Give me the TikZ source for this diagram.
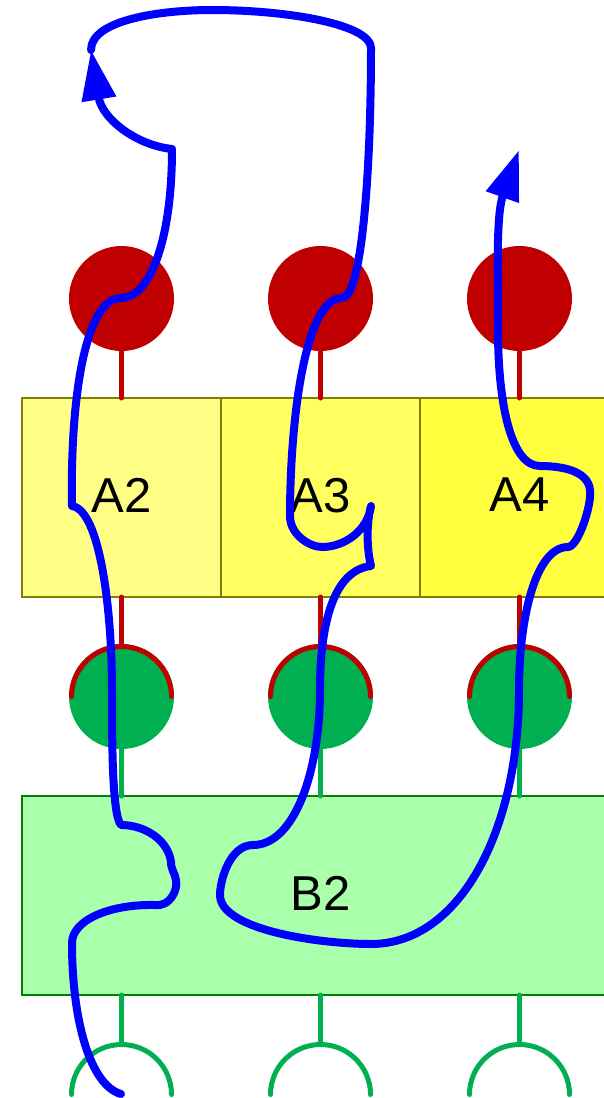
\documentclass[tikz,border=0pt]{standalone}
\usepackage{fontspec}
\usepackage{xcolor}
\setmainfont{Liberation Sans}
\usetikzlibrary{shapes,arrows.meta,positioning}

\definecolor{ballred}{HTML}{C00000}
\definecolor{ballgreen}{HTML}{00B050}
\definecolor{aline}{HTML}{808000}
\definecolor{afilla}{HTML}{FFFF88}
\definecolor{afillb}{HTML}{FFFF60}
\definecolor{afillc}{HTML}{FFFF40}
\definecolor{bline}{HTML}{008000}
\definecolor{bfill}{HTML}{AAFFAA}
\tikzset{
    box/.style={rectangle, draw, line width=2.5pt, inner sep=0pt, outer sep=0pt, minimum width=199pt, minimum height=199pt, text depth=5pt, font=\fontsize{49}{50}\selectfont},
    abox/.style={box, draw=aline},
    ball/.style={circle, inner sep=0pt, outer sep=0pt, minimum size=105pt},
    socket/.style={circle, inner sep=0pt, outer sep=0pt, minimum size=100pt},
    stem/.style={line width=5pt, line cap=round},
    wire/.style={draw=blue, line width=8pt, line cap=round, line join=round}
}

\begin{document}
\begin{tikzpicture}[x=1pt, y=1pt, node distance=199pt]
    \useasboundingbox (0,0) rectangle (603,-1098);
    % Nodes
    \node [abox, fill=afilla] (a2) at (121.5,-497.5) {A2};
    \node [abox, fill=afillb, right of=a2] (a3) {A3};
    \node [abox, fill=afillc, right of=a3] (a4) {A4};
    \node [ball, fill=ballred, above of=a2] (r2) {};
    \node [ball, fill=ballred, above of=a3] (r3) {};
    \node [ball, fill=ballred, above of=a4] (r4) {};
    \node [ball, fill=ballgreen, below of=a2] (g2) {};
    \node [ball, fill=ballgreen, below of=a3] (g3) {};
    \node [ball, fill=ballgreen, below of=a4] (g4) {};
    \node [box, draw=bline, fill=bfill, minimum width=597pt, below of=g3] (b2) {B2};
    \node [socket, below of=g2, yshift=-199pt] (s2) {};
    \node [socket, below of=g3, yshift=-199pt] (s3) {};
    \node [socket, below of=g4, yshift=-199pt] (s4) {};

    % Stems
    \draw [stem, ballred] (r2) -- (a2.north);
    \draw [stem, ballred] (r3) -- (a3.north);
    \draw [stem, ballred] (r4) -- (a4.north);
    \draw [stem, ballred] (a2.south) -- (g2.north);
    \draw [stem, ballred] (a3.south) -- (g3.north);
    \draw [stem, ballred] (a4.south) -- (g4.north);
    \draw [stem, ballgreen] (g2.south) -- (g2.south |- b2.north);
    \draw [stem, ballgreen] (g3.south) -- (b2.north);
    \draw [stem, ballgreen] (g4.south) -- (g4.south |- b2.north);
    \draw [stem, ballgreen] (s2.north |- b2.south) -- (s2.north);
    \draw [stem, ballgreen] (b2.south) -- (s3.north);
    \draw [stem, ballgreen] (s4.north |- b2.south) -- (s4.north);

    % Arcs
    \draw [stem, ballred] (g2.west) ++(2.5,0) arc[start angle=180, end angle=0, radius=50pt];
    \draw [stem, ballred] (g3.west) ++(2.5,0) arc[start angle=180, end angle=0, radius=50pt];
    \draw [stem, ballred] (g4.west) ++(2.5,0) arc[start angle=180, end angle=0, radius=50pt];
    \draw [stem, ballgreen] (s2.west) arc[start angle=180, end angle=0, radius=50pt];
    \draw [stem, ballgreen] (s3.west) arc[start angle=180, end angle=0, radius=50pt];
    \draw [stem, ballgreen] (s4.west) arc[start angle=180, end angle=0, radius=50pt];

    % Path
    \coordinate (start) at (121,-1094);
    \coordinate (loop) at (91,-50);
    \coordinate (exit) at (519,-150);
    \draw [wire, -{Triangle[length=50pt, width=33pt]}] (start)
        .. controls (90,-1085) and (72,-1020) .. (72,-943)
        .. controls (72,-920) and (110,-904) .. (155,-905)
        .. controls (170,-907) and (178,-890) .. (176,-880)
        .. controls (175,-873) and (171,-870) .. (171,-862)
        .. controls (168,-840) and (145,-825) .. (121,-825)
        .. controls (112,-815) and (112,-740) .. (112,-690)
        .. controls (112,-610) and (100,-510) .. (72,-506)
        .. controls (70,-400) and (85,-298) .. (121,-298)
        .. controls (150,-298) and (172,-240) .. (172,-149)
        .. controls (135,-145) and (102,-118) .. (loop);
    \draw [wire, -{Triangle[length=50pt, width=33pt]}] (loop)
        .. controls (91,-20) and (160,-10) .. (212,-10)
        .. controls (290,-10) and (371,-25) .. (371,-48)
        .. controls (371,-170) and (362,-298) .. (342,-298)
        .. controls (305,-298) and (290,-420) .. (290,-516)
        .. controls (290,-535) and (310,-547) .. (322,-547)
        .. controls (345,-547) and (368,-530) .. (371,-506)
        .. controls (366,-525) and (367,-550) .. (371,-566)
        .. controls (335,-570) and (320,-620) .. (320,-690)
        .. controls (320,-770) and (295,-845) .. (253,-845)
        .. controls (230,-845) and (220,-880) .. (220,-895)
        .. controls (220,-930) and (320,-944) .. (371,-944)
        .. controls (460,-944) and (519,-830) .. (519,-690)
        .. controls (519,-620) and (535,-547) .. (568,-547)
        .. controls (578,-547) and (592,-505) .. (590,-490)
        .. controls (588,-470) and (560,-466) .. (540,-466)
        .. controls (510,-466) and (498,-400) .. (498,-330)
        .. controls (498,-270) and (496,-215) .. (exit);
\end{tikzpicture}
\end{document}
